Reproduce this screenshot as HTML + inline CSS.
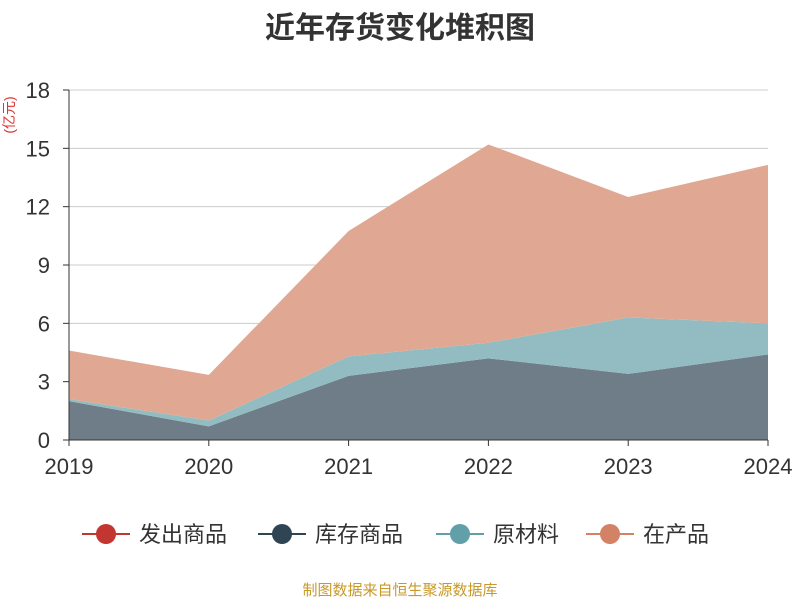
<!DOCTYPE html>
<html><head><meta charset="utf-8"><style>
body{margin:0;background:#fff;}
svg text{font-family:"Liberation Sans","Noto Sans CJK SC",sans-serif;}
</style></head><body>
<svg width="800" height="600" id="c">
<text x="400" y="38" text-anchor="middle" font-size="30" font-weight="bold" fill="#333">近年存货变化堆积图</text>
<text transform="translate(14,115) rotate(-90)" text-anchor="middle" font-size="14" fill="#d33">(亿元)</text>
<g id="grid"></g><g id="areas"></g><g id="axes"></g>
<g id="legend"></g>
<text x="400" y="595" text-anchor="middle" font-size="15" fill="#c8992a">制图数据来自恒生聚源数据库</text>
</svg>
<script>
const categories=["2019","2020","2021","2022","2023","2024"];
const seriesNames=["发出商品","库存商品","原材料","在产品"];
const faChu=[0,0,0,0,0,0];
const kuCun=[2.0,0.7,3.3,4.2,3.4,4.4];
const yuanCai=[0.1,0.3,1.0,0.8,2.9,1.6];
const zaiChan=[2.5,2.35,6.45,10.2,6.2,8.15];
const yTicks=[0,3,6,9,12,15,18];
const fills=["#c23531","#6f7d88","#92bcc1","#e0a892"];
const lineCols=["#c23531","#2f4554","#61a0a8","#d48265"];
const NS="http://www.w3.org/2000/svg";
const x=i=>69+i*(768-69)/(categories.length-1);
const y=v=>440-v*(350/18);
function mk(t,a,p){const e=document.createElementNS(NS,t);for(const k in a)e.setAttribute(k,a[k]);p.appendChild(e);return e;}
const grid=document.getElementById('grid'),axes=document.getElementById('axes'),areas=document.getElementById('areas'),leg=document.getElementById('legend');
yTicks.forEach(t=>{
 if(t>0){const l=mk('line',{x1:69,x2:768,y1:y(t),y2:y(t),stroke:'#ccc'},grid);}
 const tx=mk('text',{x:50,y:y(t)+8,'text-anchor':'end','font-size':22,fill:'#333'},axes);tx.textContent=t;
 
 mk('line',{x1:63,x2:69,y1:y(t),y2:y(t),stroke:'#333'},axes);
});
mk('line',{x1:69,x2:69,y1:90,y2:440,stroke:'#333'},axes);
mk('line',{x1:69,x2:768,y1:440,y2:440,stroke:'#333'},axes);
categories.forEach((c,i)=>{
 mk('line',{x1:x(i),x2:x(i),y1:440,y2:446,stroke:'#333'},axes);
 const tx=mk('text',{x:x(i),y:474,'text-anchor':'middle','font-size':22,fill:'#333'},axes);tx.textContent=c;
 
});
const data=[faChu,kuCun,yuanCai,zaiChan];
let base=categories.map(()=>0);
data.forEach((s,k)=>{
 const top=base.map((b,i)=>b+s[i]);
 let d=top.map((v,i)=>(i?'L':'M')+x(i)+','+y(v)).join('');
 for(let i=categories.length-1;i>=0;i--)d+='L'+x(i)+','+y(base[i]);
 const p=mk('path',{d:d+'Z',fill:fills[k],stroke:'none'},areas);
 
 base=top;
});
const lx=[82,258,436,586];
seriesNames.forEach((n,k)=>{
 const g=mk('g',{},leg);
 
 mk('line',{x1:lx[k],x2:lx[k]+48,y1:534,y2:534,stroke:lineCols[k],'stroke-width':2},g);
 mk('circle',{cx:lx[k]+24,cy:534,r:10,fill:lineCols[k]},g);
 const t=mk('text',{x:lx[k]+57,y:542,'font-size':22,fill:'#333'},g);t.textContent=n;
});
</script>
</body></html>
